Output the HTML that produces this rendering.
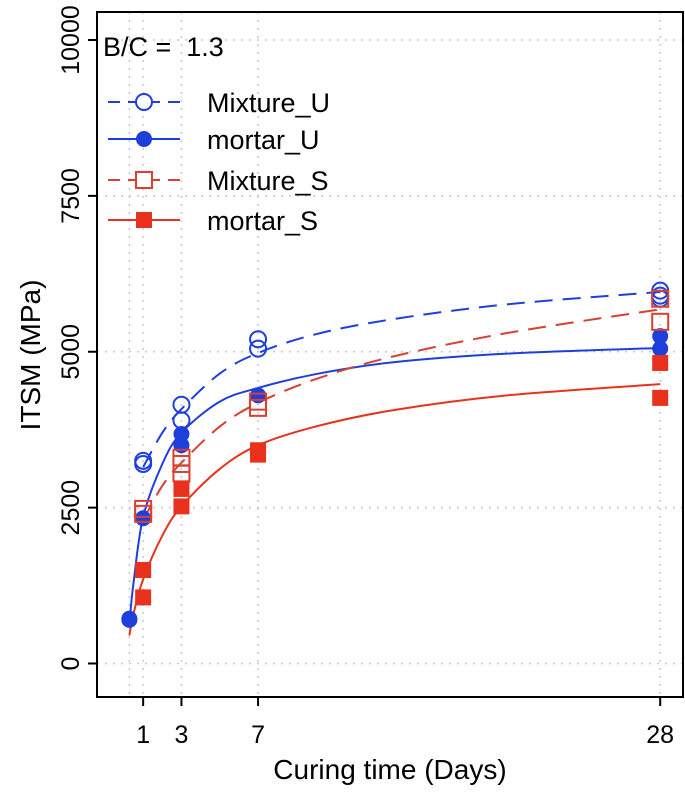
<!DOCTYPE html>
<html><head><meta charset="utf-8"><style>
body{margin:0;background:#fff;}
svg text{font-family:"Liberation Sans",sans-serif;fill:#000;white-space:pre;}
</style></head><body>
<svg id="chart" width="685" height="787" xmlns="http://www.w3.org/2000/svg"></svg>
<script>
const xTicks=[1,3,7,28];
const yTicks=[0,2500,5000,7500,10000];
const gridX=[0.28,1,3,7,28];
const mixUDays=[1,1,3,3,7,7,28,28,28];
const mixUVals=[3200,3250,4150,3900,5200,5050,5980,5900,5850];
const morUDays=[0.28,0.28,1,3,3,7,28,28];
const morUVals=[720,700,2330,3680,3500,4300,5250,5050];
const mixSDays=[1,1,3,3,3,7,7,28,28];
const mixSVals=[2480,2400,3300,3200,3050,4200,4100,5850,5480];
const morSDays=[1,1,3,3,7,7,28,28];
const morSVals=[1500,1060,2800,2520,3420,3350,4820,4260];
const fitDaysU=[0.28,0.5,1,2,3,5,7,10,14,20,28];
const morUFit=[650,1300,2350,3200,3700,4200,4420,4640,4830,4970,5060];
const morSFit=[450,800,1350,2050,2520,3120,3500,3800,4060,4300,4480];
const fitDaysM=[1,2,3,5,7,10,14,20,28];
const mixUFit=[3150,3700,4080,4650,4980,5280,5520,5760,5960];
const mixSFit=[2300,2850,3220,3800,4180,4560,4920,5300,5680];

const L=97,R=683,T=12,B=697;
const X=d=>124+d*19.15;
const Y=v=>663.5-v*0.06235;
const svg=document.getElementById('chart');
const NS='http://www.w3.org/2000/svg';
function mk(tag,attrs,parent){const e=document.createElementNS(NS,tag);for(const k in attrs)e.setAttribute(k,attrs[k]);(parent||svg).appendChild(e);return e;}

gridX.forEach(d=>{const g=mk('line',{x1:X(d),x2:X(d),y1:T,y2:B,stroke:'#c8c8d8','stroke-dasharray':'2,6','stroke-width':1.5});

});
yTicks.forEach(v=>{const g=mk('line',{x1:L,x2:R,y1:Y(v),y2:Y(v),stroke:'#c8c8c8','stroke-dasharray':'2,6','stroke-width':1.5});

});

const box=mk('rect',{x:L,y:T,width:R-L,height:B-T,fill:'none',stroke:'#000','stroke-width':2});


yTicks.forEach(v=>{const t=mk('line',{x1:L-9,x2:L,y1:Y(v),y2:Y(v),stroke:'#000','stroke-width':2});


const tx=mk('text',{x:0,y:0,'font-size':25,'text-anchor':'middle',transform:`translate(79,${Y(v)}) rotate(-90)`});tx.textContent=v;

});
xTicks.forEach(d=>{const t=mk('line',{x1:X(d),x2:X(d),y1:B,y2:B+9,stroke:'#000','stroke-width':2});


const tx=mk('text',{x:X(d),y:743,'font-size':25,'text-anchor':'middle'});tx.textContent=d;

});
const xt=mk('text',{x:390,y:779,'font-size':28,'text-anchor':'middle'});xt.textContent='Curing time (Days)';


const yt=mk('text',{x:0,y:0,'font-size':28,'text-anchor':'middle',transform:'translate(40,355) rotate(-90)'});yt.textContent='ITSM (MPa)';



function curve(days,vals,color,dash,name){
  const p=days.map((d,i)=>[X(d),Y(vals[i])]);
  let s=`M${p[0][0]},${p[0][1]}`;
  for(let i=0;i<p.length-1;i++){const p0=p[i-1]||p[i],p1=p[i],p2=p[i+1],p3=p[i+2]||p2;
    s+=` C${p1[0]+(p2[0]-p0[0])/6},${p1[1]+(p2[1]-p0[1])/6} ${p2[0]-(p3[0]-p1[0])/6},${p2[1]-(p3[1]-p1[1])/6} ${p2[0]},${p2[1]}`;}
  const e=mk('path',{d:s,fill:'none',stroke:color,'stroke-width':2,'stroke-dasharray':dash||'none'});
  
  
}
const BLUE='#1f3fdc',RED='#e8321e';
curve(fitDaysU,morUFit,BLUE,null,'fit-mortar-u');
curve(fitDaysU,morSFit,RED,null,'fit-mortar-s');
curve(fitDaysM,mixUFit,BLUE,'18,10','fit-mixture-u');
curve(fitDaysM,mixSFit,'#d84030','18,10','fit-mixture-s');

function pts(days,vals,shape,filled,color,name){
  days.forEach((d,i)=>{const cx=X(d),cy=Y(vals[i]);let e;
    if(shape==='c')e=mk('circle',{cx,cy,r:filled?7:8,fill:filled?color:'none',stroke:color,'stroke-width':2});
    else e=mk('rect',{x:cx-(filled?7:8),y:cy-(filled?7:8),width:filled?14:16,height:filled?14:16,fill:filled?color:'none',stroke:color,'stroke-width':2});
    
    });
}
pts(mixUDays,mixUVals,'c',false,BLUE,'point-mixture-u');
pts(morUDays,morUVals,'c',true,BLUE,'point-mortar-u');
pts(mixSDays,mixSVals,'s',false,'#d84030','point-mixture-s');
pts(morSDays,morSVals,'s',true,RED,'point-mortar-s');

const bc=mk('text',{x:103,y:56,'font-size':27});bc.textContent='B/C =  1.3';


const leg=[['Mixture_U',BLUE,'12,8','c',false,102],['mortar_U',BLUE,null,'c',true,139],['Mixture_S','#d84030','12,8','s',false,180],['mortar_S',RED,null,'s',true,220]];
leg.forEach(([t,c,dash,sh,f,y])=>{
  const g=mk('g',{});
  
  mk('line',{x1:108,x2:180,y1:y,y2:y,stroke:c,'stroke-width':2,'stroke-dasharray':dash||'none'},g);
  if(sh==='c')mk('circle',{cx:144,cy:y,r:f?7:8,fill:f?c:'#fff',stroke:c,'stroke-width':2},g);
  else mk('rect',{x:144-(f?7:8),y:y-(f?7:8),width:f?14:16,height:f?14:16,fill:f?c:'#fff',stroke:c,'stroke-width':2},g);
  const tx=mk('text',{x:207,y:y+10,'font-size':27},g);tx.textContent=t;
});
</script>
</body></html>
